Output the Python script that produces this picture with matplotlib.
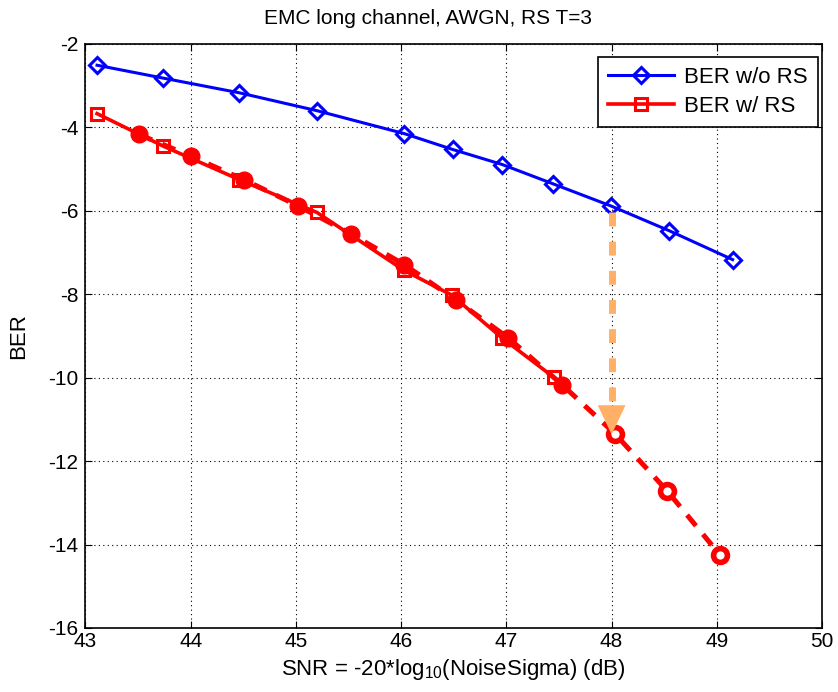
import numpy as np
import matplotlib
matplotlib.use("Agg")
import matplotlib.pyplot as plt

plt.rcParams['font.family'] = ['Liberation Sans', 'DejaVu Sans']
plt.rcParams['axes.unicode_minus'] = False
plt.rcParams['mathtext.fontset'] = 'custom'
plt.rcParams['mathtext.rm'] = 'Liberation Sans'

# BER without RS coding (blue diamonds)
snr_raw = [43.11, 43.74, 44.46, 45.20, 46.03, 46.49, 46.96, 47.44, 47.99, 48.55, 49.15]
ber_raw = [-2.51, -2.82, -3.17, -3.60, -4.15, -4.53, -4.89, -5.35, -5.88, -6.48, -7.17]

# BER with RS coding, measured (red squares)
snr_rs = [43.11, 43.74, 44.46, 45.20, 46.03, 46.48, 46.96, 47.45]
ber_rs = [-3.67, -4.45, -5.25, -6.04, -7.43, -8.02, -9.05, -9.99]

# BER with RS coding, predicted (red circles, dashed)
snr_pred = [43.51, 44.0, 44.51, 45.02, 45.52, 46.03, 46.52, 47.02, 47.53, 48.03, 48.53, 49.03]
ber_pred = [-4.17, -4.69, -5.26, -5.88, -6.55, -7.29, -8.14, -9.05, -10.17, -11.34, -12.72, -14.25]
n_filled = 9

arrow_x = 48.0
arrow_from = -6.03
arrow_to = -11.36

fig = plt.figure(figsize=(8.38, 6.92), dpi=100)
ax = fig.add_axes([0.102, 0.0925, 0.879, 0.844])

red = '#ff0000'
blue = '#0000ff'
orange = '#ffb066'

# dashed prediction curve
ax.plot(snr_pred, ber_pred, color=red, lw=3.6, dashes=(2.8, 2.2), zorder=3)
ax.plot(snr_pred[:n_filled], ber_pred[:n_filled], ls='none', marker='o', ms=12,
        mfc=red, mec=red, zorder=4)
ax.plot(snr_pred[n_filled:], ber_pred[n_filled:], ls='none', marker='o', ms=10,
        mfc='white', mec=red, mew=4, zorder=4)

ax.plot(snr_raw, ber_raw, color=blue, lw=2.2, marker='D', ms=8, mfc='none',
        mec=blue, mew=2.2, label='BER w/o RS', zorder=5)
ax.plot(snr_rs, ber_rs, color=red, lw=2.6, marker='s', ms=9, mfc='none',
        mec=red, mew=2.2, label='BER w/ RS', zorder=5)

# orange arrow
ax.plot([arrow_x, arrow_x], [arrow_from, arrow_to + 0.65], color=orange, lw=5,
        dashes=(2.0, 2.2), zorder=6)
ax.annotate('', xy=(arrow_x, arrow_to), xytext=(arrow_x, arrow_to + 0.8),
            arrowprops=dict(arrowstyle='-|>,head_width=0.5,head_length=1.05',
                            mutation_scale=20, color=orange, lw=0,
                            shrinkA=0, shrinkB=0), zorder=6)

ax.set_xlim(43, 50)
ax.set_ylim(-16, -2)
ax.set_xticks(np.arange(43, 51, 1))
ax.set_yticks(np.arange(-16, -1, 2))
ax.grid(True, color='black', ls=(0, (1, 3)), lw=0.8)
ax.tick_params(direction='in', top=True, right=True, labelsize=15, length=5)
ax.tick_params(axis='x', pad=3)
ax.tick_params(axis='y', pad=5)
for s in ax.spines.values():
    s.set_linewidth(1.2)

ax.set_title('EMC long channel, AWGN, RS T=3', fontsize=15, pad=14, x=0.465)
ax.set_ylabel('BER', fontsize=16, labelpad=14)
ax.set_xlabel('SNR = -20*log$_{10}$(NoiseSigma) (dB)', fontsize=16, labelpad=4)

leg = ax.legend(loc='upper right', bbox_to_anchor=(0.9946, 0.978), borderaxespad=0,
                fontsize=16, fancybox=False, edgecolor='black', framealpha=1,
                handlelength=3.0, handletextpad=0.45, labelspacing=0.35,
                borderpad=0.45)
leg.get_frame().set_linewidth(1.2)

fig.savefig('out.png', dpi=100)
